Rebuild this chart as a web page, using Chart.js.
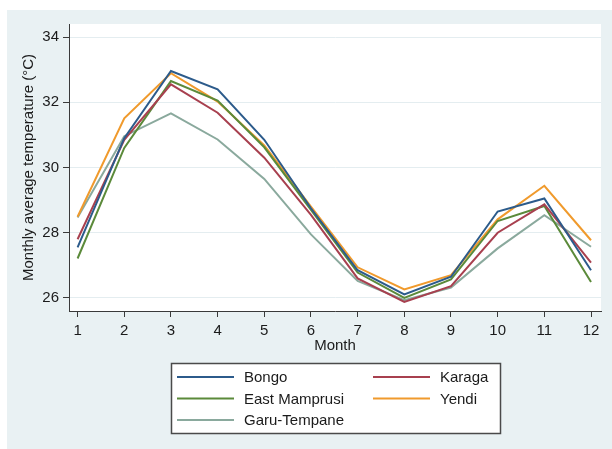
<!DOCTYPE html>
<html>
<head>
<meta charset="utf-8">
<title>Monthly average temperature by district</title>
<script src="https://cdn.jsdelivr.net/npm/chart.js@4/dist/chart.umd.min.js"></script>
<style>
  html, body { margin: 0; padding: 0; background: #ffffff; }
  #wrap { width: 612px; height: 449px; }
</style>
</head>
<body>
<div id="wrap"><canvas id="c" width="612" height="449"></canvas></div>
<script>
// Months on the x axis and temperature ticks on the y axis
const months = [1, 2, 3, 4, 5, 6, 7, 8, 9, 10, 11, 12];
const tempTicks = [26, 28, 30, 32, 34];

// District names (legend order) and their monthly mean temperatures, °C
const districtNames = ['Bongo', 'Karaga', 'East Mamprusi', 'Yendi', 'Garu-Tempane'];
const bongo        = [27.55, 30.90, 32.96, 32.40, 30.85, 28.75, 26.85, 26.11, 26.65, 28.65, 29.05, 26.85];
const karaga       = [27.80, 30.85, 32.55, 31.68, 30.30, 28.55, 26.60, 25.88, 26.36, 28.00, 28.87, 27.08];
const eastMamprusi = [27.21, 30.60, 32.65, 32.05, 30.62, 28.70, 26.78, 26.00, 26.57, 28.36, 28.82, 26.49];
const yendi        = [28.49, 31.51, 32.89, 32.02, 30.68, 28.80, 26.94, 26.26, 26.70, 28.41, 29.44, 27.77];
const garuTempane  = [28.47, 30.96, 31.66, 30.86, 29.65, 27.95, 26.52, 25.93, 26.32, 27.52, 28.54, 27.57];

const seriesValues = [bongo, karaga, eastMamprusi, yendi, garuTempane];
const seriesColors = ['#2c5b8b', '#a8404f', '#5b8a3a', '#f09a2c', '#8aa99d'];

const FONT = '"Liberation Sans", Arial, sans-serif';
const TEXT = '#1b1b1b';
const PANEL = '#e9f1f3';

// Panel background, white plot region, axis titles and a boxed two-column legend
const decor = {
  id: 'decor',
  beforeDraw(chart) {
    const { ctx, chartArea: a } = chart;
    ctx.save();
    ctx.fillStyle = '#ffffff';
    ctx.fillRect(0, 0, chart.width, chart.height);
    ctx.fillStyle = PANEL;
    ctx.fillRect(7, 10, chart.width - 7, chart.height - 10);
    ctx.fillStyle = '#ffffff';
    ctx.fillRect(a.left, a.top, a.right - a.left, a.bottom - a.top);
    ctx.restore();
  },
  afterDraw(chart) {
    const { ctx, chartArea: a } = chart;
    ctx.save();
    ctx.fillStyle = TEXT;
    ctx.font = '15px ' + FONT;
    ctx.textAlign = 'center';
    ctx.textBaseline = 'middle';
    // x title
    ctx.fillText('Month', (a.left + a.right) / 2, 346);
    // y title
    ctx.save();
    ctx.translate(29, (a.top + a.bottom) / 2);
    ctx.rotate(-Math.PI / 2);
    ctx.fillText('Monthly average temperature (\u00B0C)', 0, 0);
    ctx.restore();

    // legend box
    const bx = 171, by = 363, bw = 329, bh = 70;
    ctx.fillStyle = '#ffffff';
    ctx.fillRect(bx, by, bw, bh);
    ctx.strokeStyle = '#4a4a4a';
    ctx.lineWidth = 1.5;
    ctx.strokeRect(bx + 0.5, by + 0.5, bw, bh);

    const colX = [177, 373];
    const rowY = [377, 398.5, 420];
    ctx.textAlign = 'left';
    chart.data.datasets.forEach((ds, i) => {
      const cx = colX[i % 2];
      const cy = rowY[Math.floor(i / 2)];
      ctx.strokeStyle = ds.borderColor;
      ctx.lineWidth = 2;
      ctx.beginPath();
      ctx.moveTo(cx, cy);
      ctx.lineTo(cx + 57, cy);
      ctx.stroke();
      ctx.fillStyle = TEXT;
      ctx.fillText(ds.label, cx + 67, cy + 1);
    });
    ctx.restore();
  }
};

const datasets = districtNames.map((name, i) => ({
  label: name,
  data: months.map((m, j) => ({ x: m, y: seriesValues[i][j] })),
  borderColor: seriesColors[i],
  backgroundColor: seriesColors[i],
  borderWidth: 2,
  pointRadius: 0,
  tension: 0,
  fill: false
}));

new Chart(document.getElementById('c'), {
  type: 'line',
  data: { datasets },
  plugins: [decor],
  options: {
    responsive: false,
    devicePixelRatio: 1,
    animation: false,
    layout: { padding: { left: 0, right: 11, top: 24, bottom: 0 } },
    plugins: {
      legend: { display: false },
      tooltip: { enabled: false }
    },
    scales: {
      x: {
        type: 'linear',
        min: 0.816,
        max: 12.214,
        afterBuildTicks(s) { s.ticks = months.map(v => ({ value: v })); },
        afterFit(s) { s.height = 138; },
        ticks: {
          color: TEXT,
          font: { family: FONT, size: 15 },
          padding: 5,
          maxRotation: 0,
          autoSkip: false,
          callback: v => String(v)
        },
        grid: {
          drawOnChartArea: false,
          drawTicks: true,
          tickLength: 6,
          tickColor: '#3a3a3a'
        },
        border: { display: true, color: '#3a3a3a', width: 1 }
      },
      y: {
        type: 'linear',
        min: 25.6,
        max: 34.4,
        afterBuildTicks(s) { s.ticks = tempTicks.map(v => ({ value: v })); },
        afterFit(s) { s.width = 69; },
        ticks: {
          color: TEXT,
          font: { family: FONT, size: 15 },
          padding: 4,
          callback: v => String(v)
        },
        grid: {
          color: '#e4edf0',
          lineWidth: 1,
          drawTicks: true,
          tickLength: 6,
          tickColor: '#3a3a3a'
        },
        border: { display: true, color: '#3a3a3a', width: 1 }
      }
    }
  }
});
</script>
</body>
</html>
